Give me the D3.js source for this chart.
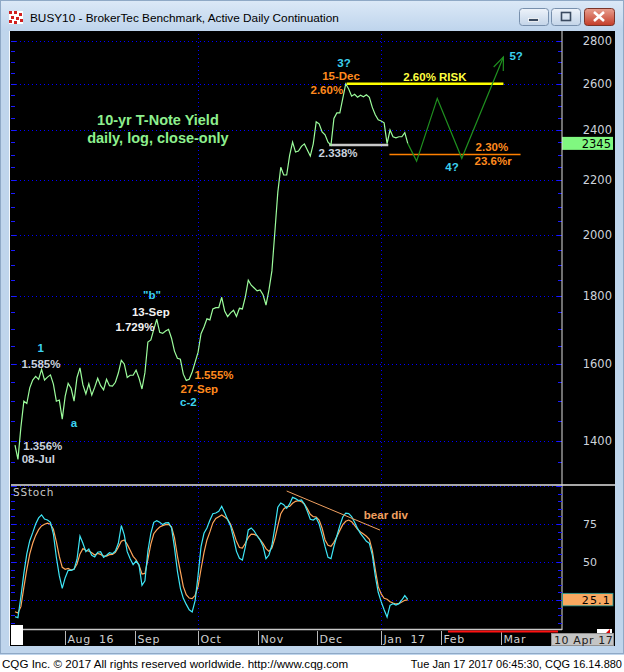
<!DOCTYPE html>
<html><head><meta charset="utf-8">
<script src="https://cdn.jsdelivr.net/npm/d3@7"></script>
<style>body{margin:0;background:#fff}svg{display:block}</style>
</head><body><svg id="c" width="624" height="672"></svg>
<script>
// ---------------- DATA ----------------
const priceVals=[1390,1356,1434,1500,1494,1535,1556,1566,1558,1585,
1556,1564,1570,1545,1500,1503,1454,1513,1547,1534,
1500,1563,1589,1543,1519,1546,1516,1537,1561,1541,
1530,1558,1541,1540,1550,1575,1610,1600,1563,1569,
1569,1583,1561,1532,1576,1662,1668,1699,1729,1690,
1687,1694,1699,1673,1636,1616,1613,1572,1555,1558,
1578,1605,1633,1686,1706,1730,1727,1760,1764,1764,
1796,1754,1737,1748,1756,1737,1762,1760,1797,1850,
1834,1825,1816,1819,1804,1772,1819,1880,2011,2155,
2250,2220,2220,2297,2350,2310,2314,2333,2343,2318,
2294,2343,2434,2426,2392,2380,2350,2338,2449,2472,
2472,2535,2600,2577,2545,2553,2540,2549,2542,2551,
2540,2496,2464,2443,2438,2430,2344,2400,2372,2368,
2372,2372,2389,2345];
const stochK=[14,13.4,27.2,42.5,55.3,64,69.3,75,79,81,
78.3,77.6,76.1,68.4,53.1,41,32.7,39.7,44.5,44.5,
45.2,51.8,67.1,62.3,56.8,58.6,54.4,53.3,56.4,56.8,
53.1,54.4,56.1,55.5,57.2,62.3,74,67.8,56.8,52.2,
48.2,50.6,48,34.6,37.7,57.2,68.9,76.1,77.2,76.1,
74.6,75.7,75.9,72.4,59.5,43.9,32.7,26.1,22.1,18.6,
17.1,24.6,41.2,60.1,68.9,72.4,77.4,81.8,82.2,83.3,
86.6,82.5,77.9,73.7,65.8,57,52.4,51.3,59.9,71.1,
72.4,70.4,67.1,64.5,60.3,52.2,54.6,61,72.8,86,
88.8,87.7,85.3,88.2,92.5,91.7,90.4,90.8,88.2,83.3,
78.1,77.6,79,75,67.8,60.1,53.1,52.2,60.3,67.1,
73.9,79.6,82.2,81.8,79.8,76.1,72.1,68.6,66.2,63.6,
62.3,54.6,40.8,30.1,23.9,18.6,13.8,21.5,22.6,21.7,
22.6,25,27.9,25.4];
const stochD=[17.3,16.4,20.6,33.3,45.2,55.3,62.3,67.5,71.3,73.7,
74.8,75.5,74.8,71.5,63.4,53.7,46.5,45.2,45.8,44.7,
45.4,48.7,55.3,58.8,57.7,57.2,56.1,54.6,55.7,55,
53.9,53.9,54.8,55,56.4,59.7,63.6,64.5,61.6,57.7,
53.7,51.5,47.8,42.1,42.5,51.8,61.8,68.6,71.1,73,
73.9,74.6,74.8,73.2,66,53.9,43.9,33.8,28.5,26.3,
25.9,28.1,34,45.4,56.1,64.5,69.8,75.7,78.7,79.8,
80.9,79.6,78.1,74.8,69.5,63.6,59.5,59.2,62.3,66.2,
68.4,68.2,67.3,64.7,62.1,58.8,57,59.2,65.4,73.7,
81.8,84.9,86.4,86.6,88.6,89.9,90.4,89.7,88,85.1,
81.4,79.8,79.6,77.6,72.2,64.5,61,60.3,62.9,66.7,
70.8,74.6,76.8,77.6,76.5,74.1,71.5,69.7,68.4,66.9,
64.9,57.5,45.2,33.8,29,26.1,25.5,23.9,23,22.4,
22.6,23.7,24.8,25.1];
const priceTicks=[1400,1600,1800,2000,2200,2400,2600,2800];
const stochTicks=[25,50,75];
const monthIdx=[16.9,40.6,61.9,82.3,102.3,124,144.3,164.6];
const monthLabels=["Aug  16","Sep","Oct","Nov","Dec","Jan  17","Feb","Mar"];
const gridMonthIdx=[61.9,124];
const projIdx=[133,136,143,151.3,165.4];
const projVals=[2345,2274,2535,2285,2724];
const levelVals=[2600,2338,2300];
const levelFrom=[112.3,106.4,126.8];
const levelTo=[165.4,126.4,171.2];
const levelColors=["#ffff00","#c8c8c8","#ff8000"];
const levelWidths=[2.5,2.5,1.5];
const divIdx=[92,123.6], divVals=[96.7,71];
const lastPrice=2345, lastStoch=25.1;
const CY="#3cd2f0", OR="#ff8a1e", GR="#c8d0dc", WH="#f2f2f2";
const annIdx=[111.4,110.4,105.6,142.2,169.7,109.4,161.5,161.9,148,46.4,46,40.6,8.7,8.8,67.4,62.4,58.7,20,9.4,7.9];
const annVals=[2696,2635,2572,2631,2728,2306,2330,2274,2251,1803,1751,1707,1645,1600,1570,1532,1498,1444,1389,1357];
const annText=["3?","15-Dec","2.60%","2.60% RISK","5?","2.338%","2.30%","23.6%r","4?","\"b\"","13-Sep","1.729%","1","1.585%","1.555%","27-Sep","c-2","a","1.356%","08-Jul"];
const annColor=[CY,OR,OR,"#ffff40",CY,GR,OR,OR,CY,CY,WH,WH,CY,GR,OR,OR,CY,CY,GR,GR];

// ---------------- SETUP ----------------
const W=624,H=672;
const svg=d3.select("#c");
const L=11,R=561.5,T=32,B=484,ST=486,SB=629;
const x=d3.scaleLinear().domain([0,185]).range([15,15+185*2.953]);
const y=d3.scaleLog().domain([1400,2800]).range([441,441-577*Math.LN2]);
const ys=d3.scaleLinear().domain([0,100]).range([638,486]);
const defs=svg.append("defs");
defs.append("clipPath").attr("id","cm").append("rect").attr("x",L).attr("y",T).attr("width",R-L).attr("height",B-T);
defs.append("clipPath").attr("id","cs").append("rect").attr("x",L).attr("y",ST).attr("width",R-L).attr("height",SB-ST);
const tg=defs.append("linearGradient").attr("id","tb").attr("x1",0).attr("y1",0).attr("x2",0).attr("y2",1);
tg.append("stop").attr("offset",0).attr("stop-color","#dce9f7");
tg.append("stop").attr("offset",1).attr("stop-color","#bed4ec");
const bg=defs.append("linearGradient").attr("id","bt").attr("x1",0).attr("y1",0).attr("x2",0).attr("y2",1);
bg.append("stop").attr("offset",0).attr("stop-color","#eef3fa");
bg.append("stop").attr("offset",1).attr("stop-color","#c3d4e8");
const cg=defs.append("linearGradient").attr("id","ct").attr("x1",0).attr("y1",0).attr("x2",0).attr("y2",1);
cg.append("stop").attr("offset",0).attr("stop-color","#e8a090");
cg.append("stop").attr("offset",1).attr("stop-color","#c43c28");

// window chrome
svg.append("rect").attr("width",W).attr("height",H).attr("fill","#bfd5ec");
svg.append("rect").attr("width",W).attr("height",31).attr("fill","url(#tb)");
svg.append("rect").attr("x",0.5).attr("y",0.5).attr("width",W-1).attr("height",653).attr("fill","none").attr("stroke","#8fa9c6");
svg.append("rect").attr("x",0).attr("y",655).attr("width",W).attr("height",17).attr("fill","#ffffff");
// icon
const ic=svg.append("g");
ic.append("rect").attr("x",9).attr("y",11).attr("width",14).attr("height",13).attr("fill","#fff");
[[9,11],[14,11],[19,13],[11,16],[16,17],[9,20],[14,21],[20,19]].forEach(p=>ic.append("rect").attr("x",p[0]).attr("y",p[1]).attr("width",3).attr("height",3).attr("fill","#d02020"));
svg.append("text").attr("x",30).attr("y",22).attr("font-family","Liberation Sans, Arial, sans-serif").attr("font-size",11.8).attr("fill","#000").text("BUSY10 - BrokerTec Benchmark, Active Daily Continuation");
// buttons
[[519,29],[551,29]].forEach(b=>svg.append("rect").attr("x",b[0]+0.5).attr("y",8.5).attr("width",b[1]).attr("height",17).attr("rx",3).attr("fill","url(#bt)").attr("stroke","#7890ad"));
svg.append("rect").attr("x",584.5).attr("y",8.5).attr("width",30).attr("height",17).attr("rx",3).attr("fill","url(#ct)").attr("stroke","#7a3428");
svg.append("rect").attr("x",528.5).attr("y",18.5).attr("width",10).attr("height",3).attr("fill","#3a4a60").attr("stroke","#fff").attr("stroke-width",0.8);
svg.append("rect").attr("x",561.5).attr("y",12.5).attr("width",9).attr("height",8).attr("fill","none").attr("stroke","#3a4a60").attr("stroke-width",1.6);
svg.append("path").attr("d","M594,12 L604,21 M604,12 L594,21").attr("stroke","#fff").attr("stroke-width",2.6);

// black chart area
svg.append("rect").attr("x",10).attr("y",31).attr("width",605).attr("height",615).attr("fill","#000");
svg.append("line").attr("x1",9.5).attr("x2",9.5).attr("y1",31).attr("y2",646).attr("stroke","#f4f8fc");

// ---------------- MAIN PANEL ----------------
const dotted="1,3";
const gMain=svg.append("g").attr("shape-rendering","crispEdges");
gMain.selectAll(".hg").data(priceTicks).join("line")
 .attr("x1",L+1).attr("x2",R).attr("y1",d=>Math.round(y(d))+0.5).attr("y2",d=>Math.round(y(d))+0.5)
 .attr("stroke","#0000ff").attr("stroke-dasharray",dotted);
gMain.selectAll(".vg").data(gridMonthIdx).join("line")
 .attr("x1",d=>Math.round(x(d))+0.5).attr("x2",d=>Math.round(x(d))+0.5).attr("y1",T+2).attr("y2",B)
 .attr("stroke","#0000ff").attr("stroke-dasharray",dotted);
// minor ticks every 50
const minor=d3.range(1300,2851,50);
minor.forEach(v=>{
  const yy=Math.round(y(v))+0.5; if(yy<T||yy>B) return;
  const major=v%200===0;
  gMain.append("line").attr("x1",L).attr("x2",L+(major?5:3.5)).attr("y1",yy).attr("y2",yy).attr("stroke","#1a1aff");
  gMain.append("line").attr("x1",R-(major?5:3.5)).attr("x2",R).attr("y1",yy).attr("y2",yy).attr("stroke","#1a1aff");
});
// axis labels
const axis=d3.axisRight(y).tickValues(priceTicks).tickSize(0).tickFormat(d3.format("d"));
const ga=svg.append("g").attr("transform","translate(612,0)").call(axis);
ga.select(".domain").remove();
ga.selectAll("text").attr("x",0).attr("text-anchor","end").attr("fill","#cdd3dc").attr("font-family","DejaVu Sans, sans-serif").attr("font-size",11.5);

const pm=svg.append("g").attr("clip-path","url(#cm)");
// level lines
levelVals.forEach((v,k)=>{
  pm.append("line").attr("x1",x(levelFrom[k])).attr("x2",x(levelTo[k])).attr("y1",y(v)).attr("y2",y(v))
   .attr("stroke",levelColors[k]).attr("stroke-width",levelWidths[k]);
});
// projection
const proj=projIdx.map((d,k)=>[x(d),y(projVals[k])]);
pm.append("path").attr("d",d3.line()(proj)).attr("fill","none").attr("stroke","#1f8f1f").attr("stroke-width",1.2);
const tip=proj[proj.length-1], prev=proj[proj.length-2];
const ang=Math.atan2(prev[1]-tip[1],prev[0]-tip[0]);
const wl=14;
pm.append("path").attr("d",`M${tip[0]+wl*Math.cos(ang-0.38)},${tip[1]+wl*Math.sin(ang-0.38)} L${tip[0]},${tip[1]} L${tip[0]+wl*Math.cos(ang+0.38)},${tip[1]+wl*Math.sin(ang+0.38)}`)
 .attr("fill","none").attr("stroke","#1f8f1f").attr("stroke-width",1.2);
// price line
pm.append("path").datum(priceVals).attr("d",d3.line().x((d,i)=>x(i)).y(d=>y(d)))
 .attr("fill","none").attr("stroke","#9cfc9c").attr("stroke-width",1.2);
// annotations
const af="Liberation Sans, Arial, sans-serif";
annText.forEach((t,k)=>{
  pm.append("text").attr("x",x(annIdx[k])).attr("y",y(annVals[k])).attr("dy","0.36em").attr("text-anchor","middle")
   .attr("font-family",af).attr("font-weight","bold").attr("font-size",11.5).attr("fill",annColor[k]).text(t);
});
pm.append("text").attr("x",x(48.4)).attr("y",y(2442)).attr("dy","0.36em").attr("text-anchor","middle").attr("font-family",af).attr("font-weight","bold").attr("font-size",14.5).attr("fill","#8ef08e").text("10-yr T-Note Yield");
pm.append("text").attr("x",x(48.4)).attr("y",y(2367)).attr("dy","0.36em").attr("text-anchor","middle").attr("font-family",af).attr("font-weight","bold").attr("font-size",14.5).attr("fill","#8ef08e").text("daily, log, close-only");
// last price box
svg.append("rect").attr("x",562).attr("y",y(lastPrice)-6.5).attr("width",51).attr("height",13).attr("fill","#80f880");
svg.append("text").attr("x",611).attr("y",y(lastPrice)).attr("dy","0.36em").attr("text-anchor","end").attr("font-family","DejaVu Sans, sans-serif").attr("font-size",11.5).attr("fill","#000").text(d3.format("d")(lastPrice));

// panel borders
svg.append("line").attr("x1",L).attr("x2",615).attr("y1",485).attr("y2",485).attr("stroke","#a8a8a8").attr("stroke-width",2);
svg.append("line").attr("x1",562).attr("x2",562).attr("y1",31).attr("y2",630).attr("stroke","#e0e0e0").attr("stroke-width",1);
svg.append("line").attr("x1",L).attr("x2",562).attr("y1",629.5).attr("y2",629.5).attr("stroke","#c8c8c8").attr("stroke-width",1.5);

// ---------------- STOCH PANEL ----------------
const gs=svg.append("g").attr("shape-rendering","crispEdges");
gs.selectAll(".shg").data([25,50,75,100]).join("line")
 .attr("x1",L+1).attr("x2",R).attr("y1",d=>Math.round(ys(d))+0.5).attr("y2",d=>Math.round(ys(d))+0.5)
 .attr("stroke","#0000ff").attr("stroke-dasharray",dotted);
gs.selectAll(".svg").data(gridMonthIdx).join("line")
 .attr("x1",d=>Math.round(x(d))+0.5).attr("x2",d=>Math.round(x(d))+0.5).attr("y1",ST+2).attr("y2",SB)
 .attr("stroke","#0000ff").attr("stroke-dasharray",dotted);
d3.range(10,101,5).forEach(v=>{
  const yy=Math.round(ys(v))+0.5; if(yy<ST||yy>SB) return;
  const major=v%25===0;
  gs.append("line").attr("x1",L).attr("x2",L+(major?5:3.5)).attr("y1",yy).attr("y2",yy).attr("stroke","#1a1aff");
  gs.append("line").attr("x1",R-(major?5:3.5)).attr("x2",R).attr("y1",yy).attr("y2",yy).attr("stroke","#1a1aff");
});
const sAxis=d3.axisRight(ys).tickValues([50,75]).tickSize(0);
const gsa=svg.append("g").attr("transform","translate(597,0)").call(sAxis);
gsa.select(".domain").remove();
gsa.selectAll("text").attr("x",0).attr("text-anchor","end").attr("fill","#cdd3dc").attr("font-family","DejaVu Sans, sans-serif").attr("font-size",11);
svg.append("text").attr("x",13).attr("y",496).attr("font-family","DejaVu Sans, sans-serif").attr("font-size",10.5).attr("letter-spacing",0.8).attr("fill","#c8c8c8").text("SStoch");
const sp=svg.append("g").attr("clip-path","url(#cs)");
const sl=d3.line().x((d,i)=>x(i)).y(d=>ys(d)).curve(d3.curveLinear);
sp.append("path").datum(stochD).attr("d",sl).attr("fill","none").attr("stroke","#ffa55a").attr("stroke-width",1.2);
sp.append("path").datum(stochK).attr("d",sl).attr("fill","none").attr("stroke","#3ee6f6").attr("stroke-width",1.2);
sp.append("line").attr("x1",x(divIdx[0])).attr("x2",x(divIdx[1])).attr("y1",ys(divVals[0])).attr("y2",ys(divVals[1])).attr("stroke","#f0a060").attr("stroke-width",1);
sp.append("text").attr("x",x(125.6)).attr("y",ys(80.9)).attr("dy","0.36em").attr("text-anchor","middle").attr("font-family",af).attr("font-weight","bold").attr("font-size",11.5).attr("fill","#f0a060").text("bear div");
// last stoch box
svg.append("rect").attr("x",562.5).attr("y",ys(lastStoch)-6.5).attr("width",50.5).attr("height",12.5).attr("fill","#f8a860").attr("stroke","#1a9a9a").attr("stroke-width",0.8);
svg.append("text").attr("x",611).attr("y",ys(lastStoch)).attr("dy","0.38em").attr("text-anchor","end").attr("font-family","DejaVu Sans, sans-serif").attr("font-size",11).attr("letter-spacing",1.2).attr("fill","#000").text("25.1");

// ---------------- DATE AXIS ----------------
const gd=svg.append("g");
monthIdx.forEach((m,k)=>{
  const xx=Math.round(x(m))+0.5;
  gd.append("line").attr("x1",xx).attr("x2",xx).attr("y1",631).attr("y2",645).attr("stroke","#b8b8b8");
  gd.append("text").attr("x",xx+2).attr("y",643).attr("font-family","DejaVu Sans, sans-serif").attr("font-size",11).attr("letter-spacing",0.6).attr("fill","#cfcfcf").style("white-space","pre").text(monthLabels[k]);
});
svg.append("rect").attr("x",11).attr("y",625).attr("width",12).attr("height",20).attr("fill","#fff");
svg.append("line").attr("x1",448).attr("x2",558).attr("y1",631.5).attr("y2",631.5).attr("stroke","#ff1010").attr("stroke-width",2);
svg.append("rect").attr("x",597).attr("y",629).attr("width",15).attr("height",4).attr("fill","#fff");
svg.append("path").attr("d","M606,633 L610,629 L610,633 Z").attr("fill","#e00000");
svg.append("rect").attr("x",551.5).attr("y",633.5).attr("width",62).attr("height",12).attr("fill","#c4c4c4").attr("stroke","#909090");
svg.append("text").attr("x",554).attr("y",643.5).attr("font-family","DejaVu Sans, sans-serif").attr("font-size",11).attr("letter-spacing",0.6).attr("fill","#202020").text("10 Apr 17");

// footer
svg.append("text").attr("x",2).attr("y",668).attr("font-family","Liberation Sans, Arial, sans-serif").attr("font-size",11.6).attr("fill","#000").text("CQG Inc. © 2017 All rights reserved worldwide. http://www.cqg.com");
svg.append("text").attr("x",622).attr("y",668).attr("text-anchor","end").attr("font-family","Liberation Sans, Arial, sans-serif").attr("font-size",11).attr("fill","#000").text("Tue Jan 17 2017 06:45:30, CQG 16.14.880");
</script></body></html>
